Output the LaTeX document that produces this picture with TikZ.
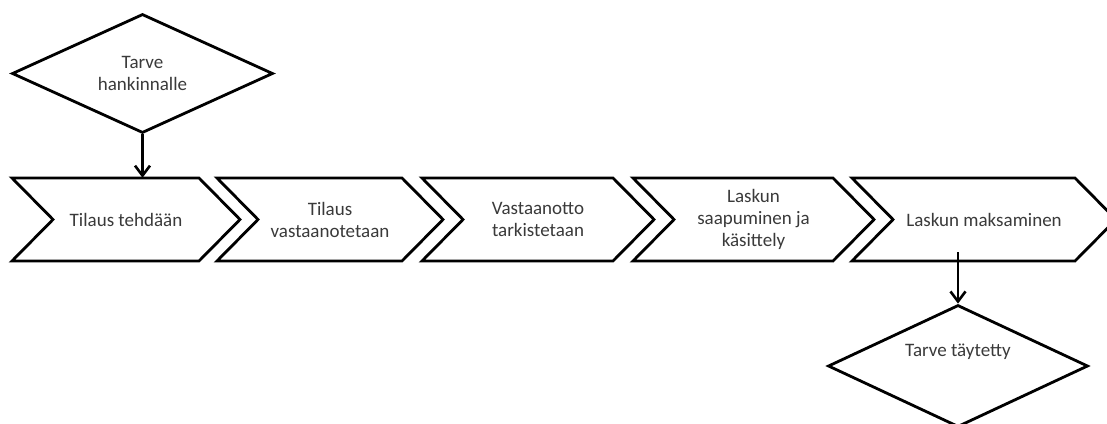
\documentclass[tikz,border=0pt]{standalone}
\usepackage{fontspec}
\setmainfont{Carlito}
\usetikzlibrary{shapes.geometric,arrows.meta}
\definecolor{txt}{HTML}{3A3A3A}
\tikzset{
  x=1pt, y=-1pt,
  outline/.style={draw=black, line width=2.8pt, line join=miter, fill=white},
  label/.style={text=txt, font=\fontsize{19}{22}\selectfont, align=center, inner sep=0pt},
  flow/.style={draw=black, line width=2.8pt, -{Straight Barb[length=10pt,width=15pt,line width=2.6pt]}},
}
\newcommand\chevron[4]{% name, left, topright, text
  \draw[outline] (#2,178) -- (#3,178) -- (#3+41,219.5) -- (#3,261) -- (#2,261) -- (#2+41,219.5) -- cycle;
  \node[label, minimum height=83pt] (#1) at ({(#2+41+#3)/2},219.5) {#4};
}
\begin{document}
\begin{tikzpicture}
\useasboundingbox (0,0) rectangle (1107,423);
\clip (0,0) rectangle (1107,423);
\fill[white] (0,0) rectangle (1107,423);
% top diamond
\node[diamond, outline, minimum width=261pt, minimum height=119pt, inner sep=0pt] (d1) at (142.5,73.5) {};
\node[label] (t1) at (d1.center) {Tarve\\hankinnalle};
% chevrons
\chevron{c1}{12}{199}{Tilaus tehdään}
\chevron{c2}{217}{402}{Tilaus\\vastaanotetaan}
\chevron{c3}{422}{613}{Vastaanotto\\tarkistetaan}
\chevron{c4}{633}{833}{Laskun\\saapuminen ja\\käsittely}
\chevron{c5}{852}{1075}{Laskun maksaminen}
% bottom diamond
\node[diamond, outline, minimum width=260pt, minimum height=122pt, inner sep=0pt] (d2) at (958,366) {};
\node[label] (t2) at (958,352) {Tarve täytetty};
% connectors
\coordinate (a1) at (d1.south |- c1.north);
\draw[flow] (d1.south) -- (a1);
\coordinate (a2) at (958,252);
\draw[flow] (a2) -- (d2.north);
\end{tikzpicture}
\end{document}
